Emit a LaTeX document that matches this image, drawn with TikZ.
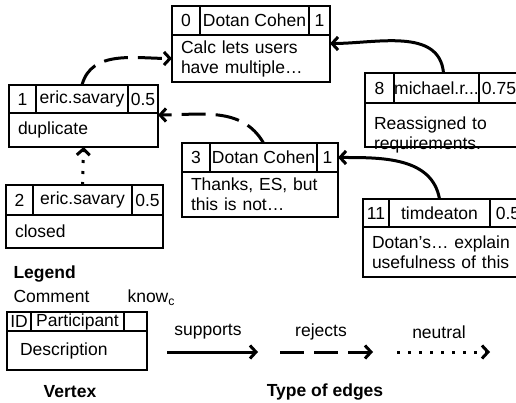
\documentclass[tikz,border=0pt]{standalone}
\usepackage{fontspec}
\setmainfont{Liberation Sans}
\usetikzlibrary{positioning,arrows.meta}

\begin{document}
\begin{tikzpicture}[x=1pt, y=-1pt,
    every node/.style={font=\fontsize{17.5}{20}\selectfont},
    cell/.style={rectangle, draw, line width=1.2pt, outer sep=0pt, inner sep=0pt, minimum height=29pt},
    body/.style={rectangle, draw, line width=1.2pt, outer sep=0pt, inner xsep=9pt, inner ysep=2pt, align=left, anchor=north west},
    head/.style={font=\bfseries\fontsize{17.5}{20}\selectfont},
    edge/.style={line width=3pt, -{Straight Barb[length=6pt,width=13pt,line width=3pt]}},
    support/.style={edge},
    reject/.style={edge, dash pattern=on 24pt off 10pt},
    neutral/.style={edge, dash pattern=on 3pt off 8pt}]
    \useasboundingbox (0,0) rectangle (516,403);
    % comment 0
    \node[cell, minimum width=28pt, anchor=north west] (c0id) at (172,6) {0};
    \node[cell, minimum width=109pt, right=0pt of c0id] (c0name) {Dotan Cohen};
    \node[cell, minimum width=21pt, right=0pt of c0name] (c0w) {1};
    \node[body, text width=140pt, minimum height=47pt] (c0) at (c0id.south west) {Calc lets users\\have multiple…};
    % comment 1
    \node[cell, minimum width=27pt, minimum height=28pt, anchor=north west] (c1id) at (9,85) {1};
    \node[cell, minimum width=92pt, minimum height=28pt, right=0pt of c1id] (c1name) {eric.savary};
    \node[cell, minimum width=30pt, minimum height=28pt, right=0pt of c1name] (c1w) {0.5};
    \node[body, text width=131pt, minimum height=34pt] (c1) at (c1id.south west) {duplicate};
    % comment 2
    \node[cell, minimum width=27pt, minimum height=30pt, anchor=north west] (c2id) at (6,185) {2};
    \node[cell, minimum width=99pt, minimum height=30pt, right=0pt of c2id] (c2name) {eric.savary};
    \node[cell, minimum width=31pt, minimum height=30pt, right=0pt of c2name] (c2w) {0.5};
    \node[body, text width=139pt, minimum height=33pt] (c2) at (c2id.south west) {closed};
    % comment 3
    \node[cell, minimum width=28pt, anchor=north west] (c3id) at (182,143) {3};
    \node[cell, minimum width=107pt, right=0pt of c3id] (c3name) {Dotan Cohen};
    \node[cell, minimum width=21pt, right=0pt of c3name] (c3w) {1};
    \node[body, text width=138pt, minimum height=45pt] (c3) at (c3id.south west) {Thanks, ES, but\\this is not…};
    % comment 8
    \node[cell, minimum width=29pt, minimum height=30pt, anchor=north west] (c8id) at (365,73) {8};
    \node[cell, minimum width=85pt, minimum height=30pt, right=0pt of c8id] (c8name) {michael.r...};
    \node[cell, minimum width=40pt, minimum height=30pt, right=0pt of c8name] (c8w) {0.75};
    \node[body, text width=136pt, inner ysep=0pt, text height=27pt, text depth=17pt] (c8) at (c8id.south west) {Reassigned to\\requirements.};
    % comment 11
    \node[cell, minimum width=26pt, minimum height=28pt, anchor=north west] (c11id) at (363,199) {11};
    \node[cell, minimum width=101pt, minimum height=28pt, right=0pt of c11id] (c11name) {timdeaton};
    \node[cell, minimum width=36pt, minimum height=28pt, right=0pt of c11name] (c11w) {0.5};
    \node[body, text width=145pt, minimum height=50pt] (c11) at (c11id.south west) {Dotan’s… explain\\usefulness of this};
    % edges
    \draw[support] ([xshift=7pt]c8name.north) to[out=95,in=0] ([yshift=15pt]c0.east);
    \draw[reject] (c1name.north) to[out=75,in=180] (c0.west);
    \draw[reject] (c3name.north) to[out=120,in=0] ([yshift=15pt]c1.east);
    \draw[support] (c11name.north) to[out=100,in=0] (c3w.east);
    \draw[neutral] (c2name.north) -- (c1.south);
    % legend
    \node[head, anchor=west] (legend) at (10,274) {Legend};
    \node[anchor=west] (comment) at (10,296) {Comment};
    \node[anchor=west] (know) at (124,298) {know\textsubscript{c}};
    \node[cell, minimum width=24pt, minimum height=19pt, anchor=north west] (lid) at (7,312) {ID};
    \node[cell, minimum width=93pt, minimum height=19pt, right=0pt of lid] (lname) {Participant};
    \node[cell, minimum width=23pt, minimum height=19pt, right=0pt of lname] (lw) {};
    \node[body, inner xsep=13pt, text width=114pt, minimum height=39pt] (lbody) at (lid.south west) {Description};
    \node[head] (vertex) at (70,392) {Vertex};
    \node (suplbl) at (208,332) {supports};
    \node (rejlbl) at (321,332) {rejects};
    \node (neulbl) at (439,332) {neutral};
    \coordinate (sup1) at (167,352);
    \coordinate (sup2) at (258,352);
    \coordinate (rej1) at (280,352);
    \coordinate (rej2) at (373,352);
    \coordinate (neu1) at (397,352);
    \coordinate (neu2) at (490,352);
    \draw[support] (sup1) -- (sup2);
    \draw[reject] (rej1) -- (rej2);
    \draw[neutral] (neu1) -- (neu2);
    \node[head] (edgetypes) at (325,392) {Type of edges};
\end{tikzpicture}
\end{document}
